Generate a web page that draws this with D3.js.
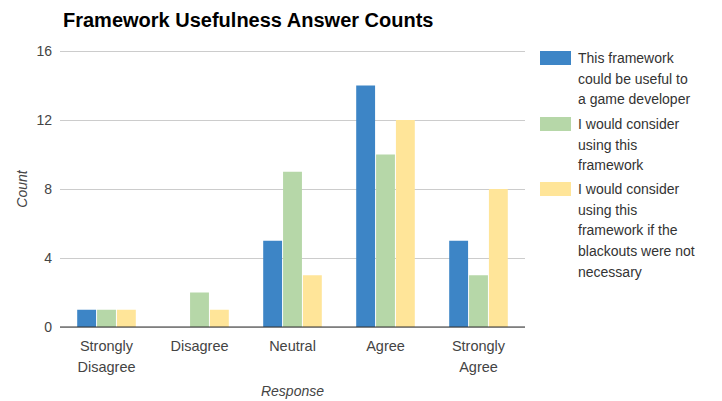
<!DOCTYPE html>
<html><head><meta charset="utf-8">
<script src="https://cdn.jsdelivr.net/npm/d3@7"></script>
<style>body{margin:0;background:#fff}svg{display:block;font-family:"Liberation Sans",Arial,sans-serif}</style>
</head><body>
<script>
const categories = ["Strongly Disagree","Disagree","Neutral","Agree","Strongly Agree"];
const seriesNames = ["This framework could be useful to a game developer","I would consider using this framework","I would consider using this framework if the blackouts were not necessary"];
const useful = [1,0,5,14,5];
const consider = [1,2,9,10,3];
const considerNoBlackouts = [1,1,3,12,8];
const yTicks = [0,4,8,12,16];
const colors = ["#3d85c6","#b6d7a8","#ffe599"];
const legendLines = [["This framework","could be useful to","a game developer"],["I would consider","using this","framework"],["I would consider","using this","framework if the","blackouts were not","necessary"]];
const catLines = [["Strongly","Disagree"],["Disagree"],["Neutral"],["Agree"],["Strongly","Agree"]];

const W=722,H=401;
const m={left:60,right:197,top:51,bottom:74};
const svg=d3.select("body").append("svg").attr("width",W).attr("height",H);
const x=d3.scaleBand().domain(categories).range([m.left,W-m.right]).paddingInner(0.37).paddingOuter(0.185);
const x1=d3.scaleBand().domain([0,1,2]).range([0,x.bandwidth()]).paddingInner(0.05);
const y=d3.scaleLinear().domain([0,16]).range([H-m.bottom,m.top]);

svg.append("text").attr("x",63).attr("y",27).attr("font-size",20).attr("font-weight","bold").attr("fill","#000").text("Framework Usefulness Answer Counts");

const ya=svg.append("g").attr("transform",`translate(${m.left},0)`).call(d3.axisLeft(y).tickValues(yTicks).tickSize(-(W-m.left-m.right)).tickPadding(8));
ya.select(".domain").remove();
ya.selectAll(".tick line").attr("stroke","#cccccc");
ya.selectAll(".tick text").attr("font-size",14).attr("fill","#444").attr("font-family","'Liberation Sans',Arial,sans-serif");

const data=[useful,consider,considerNoBlackouts];
const g=svg.append("g");
categories.forEach((c,i)=>{
  data.forEach((s,j)=>{
    if(s[i]>0) g.append("rect").attr("x",x(c)+x1(j)).attr("y",y(s[i])).attr("width",x1.bandwidth()).attr("height",y(0)-y(s[i])).attr("fill",colors[j]);
  });
});
svg.append("line").attr("x1",m.left).attr("x2",W-m.right).attr("y1",y(0)).attr("y2",y(0)).attr("stroke","#333").attr("stroke-width",1.2);

const xa=svg.append("g");
categories.forEach((c,i)=>{
  catLines[i].forEach((l,k)=>{
    xa.append("text").attr("x",x(c)+x.bandwidth()/2).attr("y",y(0)+24+k*21).attr("text-anchor","middle").attr("font-size",14.5).attr("fill","#444").text(l);
  });
});
svg.append("text").attr("x",(m.left+W-m.right)/2).attr("y",396).attr("text-anchor","middle").attr("font-size",14).attr("font-style","italic").attr("fill","#444").text("Response");
svg.append("text").attr("transform",`translate(27,${(y(0)+y(16))/2}) rotate(-90)`).attr("text-anchor","middle").attr("font-size",14).attr("font-style","italic").attr("fill","#444").text("Count");

const lg=svg.append("g");
const entryY=[51,117,182];
legendLines.forEach((lines,j)=>{
  lg.append("rect").attr("x",540).attr("y",entryY[j]).attr("width",31).attr("height",14).attr("fill",colors[j]);
  lines.forEach((l,k)=>{
    lg.append("text").attr("x",578).attr("y",entryY[j]+12+k*20.7).attr("font-size",14).attr("fill","#333").text(l);
  });
});
</script>
</body></html>
